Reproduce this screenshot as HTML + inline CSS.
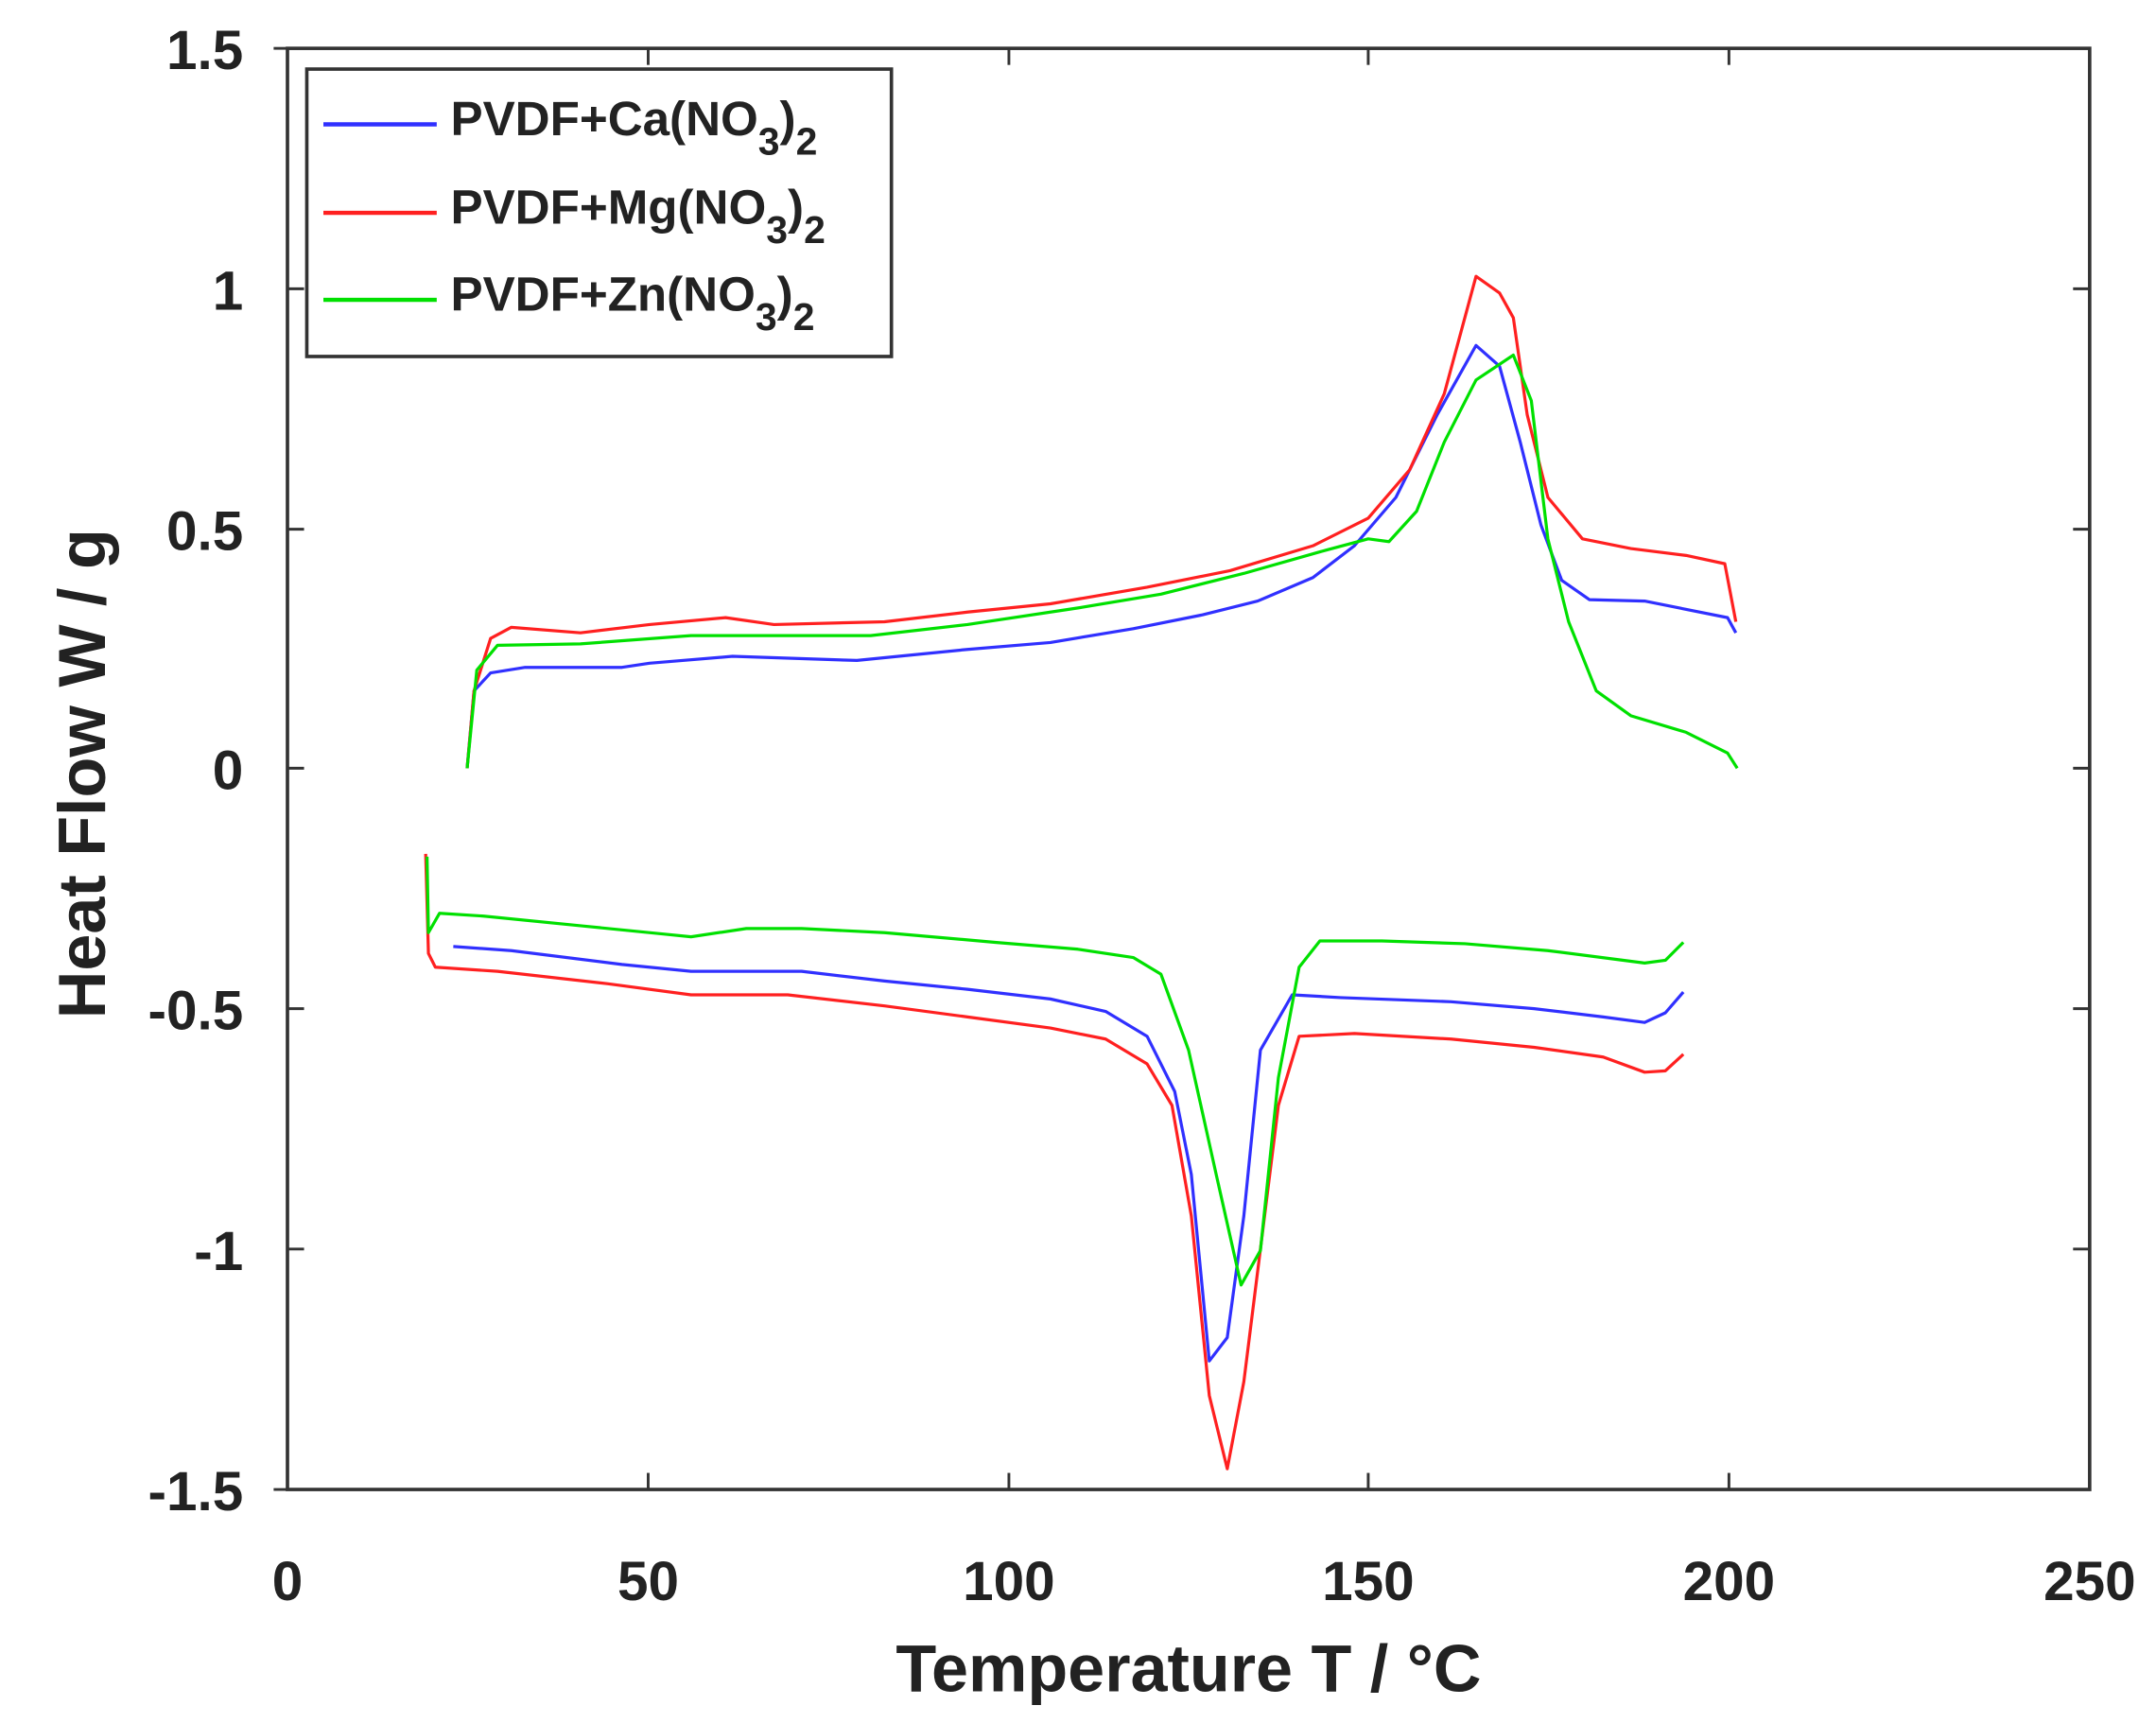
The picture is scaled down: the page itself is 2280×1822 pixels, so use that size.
<!DOCTYPE html>
<html><head><meta charset="utf-8"><style>
html,body{margin:0;padding:0;background:#fff;}
svg{display:block;}
text{font-family:"Liberation Sans",Arial,sans-serif;font-weight:bold;fill:#222;}
</style></head><body>
<svg width="2280" height="1822" viewBox="0 0 1560 1247" preserveAspectRatio="none" xmlns="http://www.w3.org/2000/svg">
<rect width="1560" height="1247" fill="#fff"/>
<rect x="208" y="35" width="1304" height="1043" fill="none" stroke="#333" stroke-width="2.5"/>
<g stroke="#333" stroke-width="2">
<line x1="469" y1="1078" x2="469" y2="1066"/><line x1="730" y1="1078" x2="730" y2="1066"/><line x1="990" y1="1078" x2="990" y2="1066"/><line x1="1251" y1="1078" x2="1251" y2="1066"/>
<line x1="469" y1="35" x2="469" y2="47"/><line x1="730" y1="35" x2="730" y2="47"/><line x1="990" y1="35" x2="990" y2="47"/><line x1="1251" y1="35" x2="1251" y2="47"/>
<line x1="208" y1="209" x2="220" y2="209"/><line x1="208" y1="383" x2="220" y2="383"/><line x1="208" y1="556" x2="220" y2="556"/><line x1="208" y1="730" x2="220" y2="730"/><line x1="208" y1="904" x2="220" y2="904"/>
<line x1="1512" y1="209" x2="1500" y2="209"/><line x1="1512" y1="383" x2="1500" y2="383"/><line x1="1512" y1="556" x2="1500" y2="556"/><line x1="1512" y1="730" x2="1500" y2="730"/><line x1="1512" y1="904" x2="1500" y2="904"/>
<line x1="198" y1="35" x2="208" y2="35"/><line x1="198" y1="1078" x2="208" y2="1078"/>
</g>
<g font-size="40" text-anchor="end">
<text x="176" y="50">1.5</text>
<text x="176" y="224">1</text>
<text x="176" y="398">0.5</text>
<text x="176" y="571">0</text>
<text x="176" y="745">-0.5</text>
<text x="176" y="919">-1</text>
<text x="176" y="1093">-1.5</text>
</g>
<g font-size="40" text-anchor="middle">
<text x="208" y="1158">0</text><text x="469" y="1158">50</text><text x="730" y="1158">100</text><text x="990" y="1158">150</text><text x="1251" y="1158">200</text><text x="1512" y="1158">250</text>
</g>
<text x="860" y="1224" font-size="48" text-anchor="middle">Temperature T / °C</text>
<text transform="translate(76,560) rotate(-90)" font-size="48" text-anchor="middle">Heat Flow W / g</text>
<g fill="none" stroke-width="2.2" stroke-linejoin="round">
<polyline stroke="#3030ff" points="338,556 343,500 355,487 380,483 450,483 470,480 530,475 620,478 700,470 760,465 820,455 870,445 910,435 950,418 980,395 1010,360 1040,300 1068,250 1085,265 1100,320 1115,380 1130,420 1150,434 1190,435 1250,447 1256,458"/>
<polyline stroke="#ff2020" points="338,556 343,500 355,462 370,454 420,458 470,452 525,447 560,452 640,450 700,443 760,437 830,425 890,413 950,395 990,375 1020,340 1045,285 1068,200 1085,212 1095,230 1105,300 1120,360 1145,390 1180,397 1220,402 1248,408 1256,450"/>
<polyline stroke="#00e000" points="338,556 345,485 360,467 420,466 500,460 630,460 700,452 780,440 840,430 900,415 960,398 990,390 1005,392 1025,370 1045,320 1068,275 1095,257 1108,290 1120,390 1135,450 1155,500 1180,518 1220,530 1250,545 1257,556"/>
<polyline stroke="#3030ff" points="328,685 370,688 450,698 500,703 580,703 640,710 700,716 760,723 800,732 830,750 850,790 862,850 875,985 888,968 900,880 912,760 935,720 970,722 1050,725 1110,730 1160,736 1190,740 1205,733 1218,718"/>
<polyline stroke="#ff2020" points="308,618 310,690 315,700 360,703 440,712 500,720 570,720 640,728 700,736 760,744 800,752 830,770 848,800 862,880 875,1010 888,1063 900,1000 915,880 925,800 940,750 980,748 1050,752 1110,758 1160,765 1190,776 1205,775 1218,763"/>
<polyline stroke="#00e000" points="309,620 310,675 318,661 350,663 420,670 480,676 500,678 540,672 580,672 640,675 720,682 780,687 820,693 840,705 860,760 880,850 898,930 912,905 925,780 940,700 955,681 1000,681 1060,683 1120,688 1190,697 1205,695 1218,682"/>
</g>
<rect x="222" y="50" width="423" height="208" fill="#fff" stroke="#333" stroke-width="2.5"/>
<g stroke-width="3">
<line x1="234" y1="90" x2="316" y2="90" stroke="#3030ff"/>
<line x1="234" y1="154" x2="316" y2="154" stroke="#ff2020"/>
<line x1="234" y1="217" x2="316" y2="217" stroke="#00e000"/>
</g>
<g font-size="35">
<text x="326" y="98">PVDF+Ca(NO<tspan dy="14" font-size="28">3</tspan><tspan dy="-14">)</tspan><tspan dy="14" font-size="28">2</tspan></text>
<text x="326" y="162">PVDF+Mg(NO<tspan dy="14" font-size="28">3</tspan><tspan dy="-14">)</tspan><tspan dy="14" font-size="28">2</tspan></text>
<text x="326" y="225">PVDF+Zn(NO<tspan dy="14" font-size="28">3</tspan><tspan dy="-14">)</tspan><tspan dy="14" font-size="28">2</tspan></text>
</g>
</svg>
</body></html>
